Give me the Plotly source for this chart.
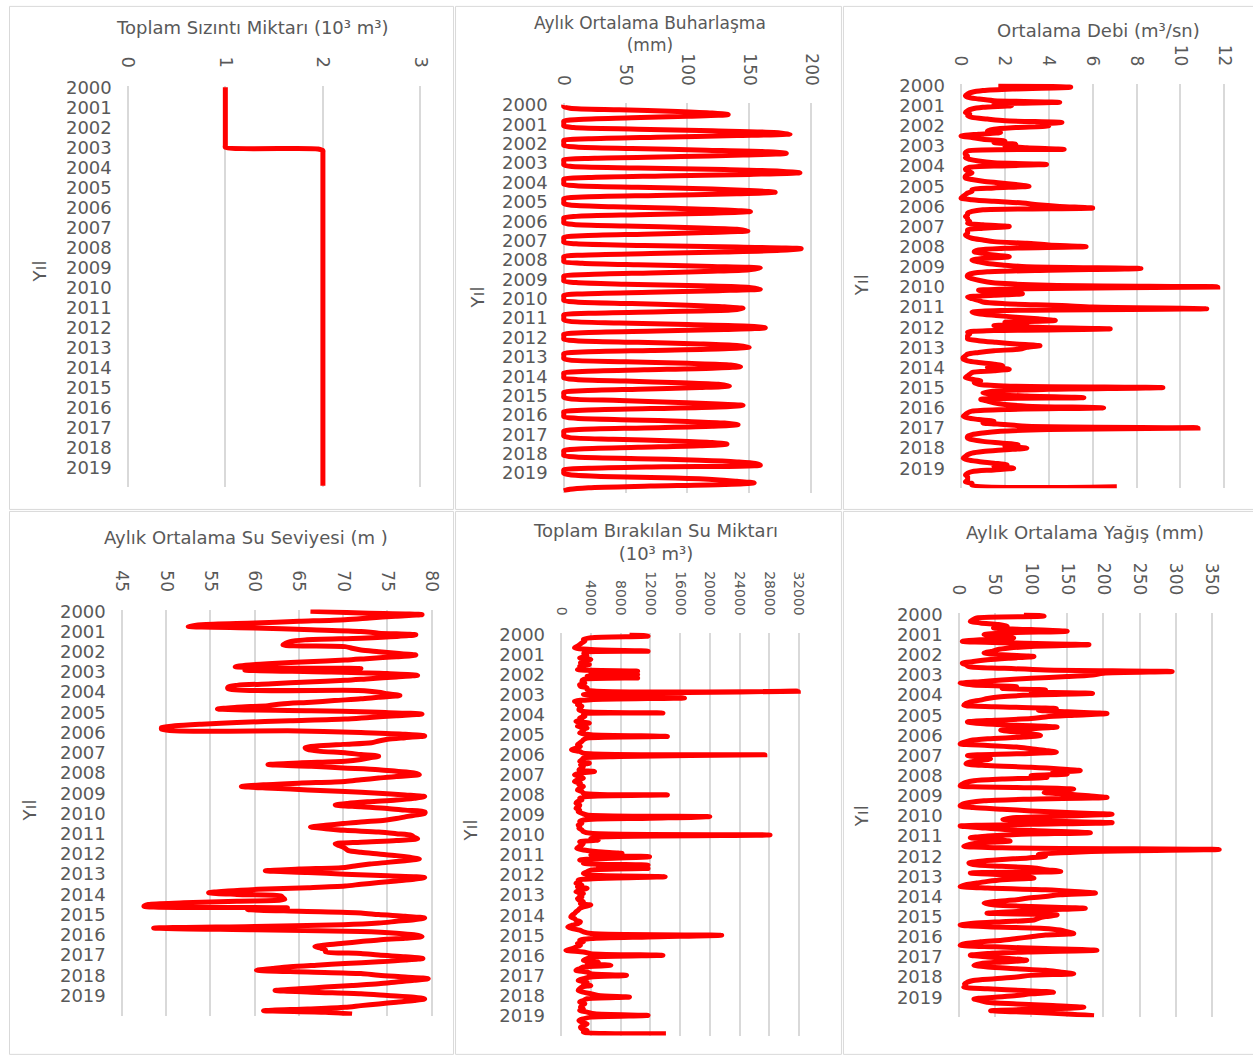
import plotly.graph_objects as go

W, H = 1253, 1056
FONT = "DejaVu Sans"
GRAY = "#595959"

years = [str(y) for y in range(2000, 2020)]
months = list(range(240))

# Toplam Sızıntı Miktarı (10^3 m^3)
sizinti = [
    1, 1, 1, 1, 1, 1, 1, 1, 1, 1, 1, 1,
    1, 1, 1, 1, 1, 1, 1, 1, 1, 1, 1, 1,
    1, 1, 1, 1, 1, 1, 1, 1, 1, 1, 1, 1,
    1, 1.95, 2, 2, 2, 2, 2, 2, 2, 2, 2, 2,
    2, 2, 2, 2, 2, 2, 2, 2, 2, 2, 2, 2,
    2, 2, 2, 2, 2, 2, 2, 2, 2, 2, 2, 2,
    2, 2, 2, 2, 2, 2, 2, 2, 2, 2, 2, 2,
    2, 2, 2, 2, 2, 2, 2, 2, 2, 2, 2, 2,
    2, 2, 2, 2, 2, 2, 2, 2, 2, 2, 2, 2,
    2, 2, 2, 2, 2, 2, 2, 2, 2, 2, 2, 2,
    2, 2, 2, 2, 2, 2, 2, 2, 2, 2, 2, 2,
    2, 2, 2, 2, 2, 2, 2, 2, 2, 2, 2, 2,
    2, 2, 2, 2, 2, 2, 2, 2, 2, 2, 2, 2,
    2, 2, 2, 2, 2, 2, 2, 2, 2, 2, 2, 2,
    2, 2, 2, 2, 2, 2, 2, 2, 2, 2, 2, 2,
    2, 2, 2, 2, 2, 2, 2, 2, 2, 2, 2, 2,
    2, 2, 2, 2, 2, 2, 2, 2, 2, 2, 2, 2,
    2, 2, 2, 2, 2, 2, 2, 2, 2, 2, 2, 2,
    2, 2, 2, 2, 2, 2, 2, 2, 2, 2, 2, 2,
    2, 2, 2, 2, 2, 2, 2, 2, 2, 2, 2, 2,
]

# Aylık Ortalama Buharlaşma (mm)
buharlasma = [
    0, 0, 5, 45, 92, 120, 133, 100, 55, 12, 0, 0,
    0, 0, 8, 60, 120, 170, 183, 140, 75, 20, 0, 0,
    0, 0, 10, 55, 115, 165, 180, 145, 95, 25, 0, 0,
    0, 0, 5, 60, 130, 175, 191, 150, 80, 20, 0, 0,
    0, 0, 10, 60, 120, 150, 171, 140, 75, 15, 0, 0,
    0, 0, 5, 40, 90, 130, 151, 120, 60, 10, 0, 0,
    0, 0, 8, 50, 105, 140, 149, 115, 65, 15, 0, 0,
    0, 0, 10, 65, 140, 192, 175, 130, 70, 15, 0, 0,
    0, 0, 15, 60, 120, 159, 150, 120, 70, 20, 0, 0,
    0, 0, 10, 50, 110, 150, 159, 125, 70, 15, 0, 0,
    0, 0, 10, 55, 100, 130, 145, 135, 80, 20, 0, 0,
    0, 0, 5, 45, 100, 150, 163, 130, 75, 15, 0, 0,
    0, 0, 10, 60, 110, 140, 150, 130, 70, 15, 0, 0,
    0, 0, 5, 50, 100, 135, 143, 120, 65, 15, 0, 0,
    0, 0, 10, 50, 95, 125, 134, 110, 60, 15, 0, 0,
    0, 0, 5, 45, 80, 120, 145, 125, 70, 15, 0, 0,
    0, 0, 10, 55, 100, 130, 141, 120, 65, 12, 0, 0,
    0, 0, 5, 40, 90, 120, 132, 110, 60, 12, 0, 0,
    0, 0, 10, 60, 110, 140, 155, 159, 80, 20, 0, 0,
    0, 5, 30, 90, 123, 140, 154, 130, 70, 20, 5, 0,
]

# Ortalama Debi (m3/sn)
debi = [
    1.7, 5.0, 2.5, 1.0, 0.5, 0.3, 0.2, 0.3, 0.8, 1.5, 4.5, 1.5,
    2.3, 1.0, 0.5, 0.3, 0.2, 0.4, 0.3, 0.5, 1.2, 2.0, 4.6, 3.5,
    4.0, 2.5, 1.5, 1.2, 1.8, 0.8, 0.0, 0.5, 1.0, 2.0, 1.5, 2.5,
    2.0, 3.0, 4.7, 0.3, 0.2, 0.2, 0.3, 0.2, 0.4, 0.8, 1.5, 3.9,
    1.5, 0.3, 0.2, 0.3, 0.5, 0.3, 0.2, 0.2, 0.5, 1.0, 1.8, 2.5,
    3.1, 1.5, 0.5, 0.5, 0.3, 0.2, 0.1, 0.0, 0.5, 1.5, 2.8, 3.5,
    4.5, 6.0, 1.0, 0.5, 0.3, 0.3, 0.2, 0.3, 0.3, 0.4, 0.3, 1.0,
    2.2, 1.0, 0.3, 0.3, 0.3, 0.2, 0.3, 0.5, 1.0, 1.5, 3.0, 4.0,
    5.7, 2.0, 0.8, 0.6, 1.0, 1.5, 2.2, 1.0, 0.5, 0.8, 1.2, 2.0,
    3.0, 8.2, 4.0, 1.2, 0.5, 0.3, 0.3, 0.5, 0.8, 1.2, 2.0, 4.0,
    11.7, 3.0, 0.8, 1.5, 2.8, 1.5, 0.3, 0.5, 0.8, 1.0, 2.0, 4.6,
    6.0, 11.2, 2.0, 0.5, 0.8, 1.6, 2.5, 3.5, 4.3, 2.0, 3.0, 1.5,
    3.5, 6.8, 1.5, 0.3, 0.4, 0.3, 0.3, 0.3, 0.8, 1.6, 2.5, 3.6,
    3.0, 2.7, 1.5, 0.8, 0.3, 0.2, 0.1, 0.1, 0.3, 0.8, 1.5, 1.9,
    1.2, 2.2, 1.5, 0.5, 0.4, 0.3, 0.2, 0.5, 0.9, 0.6, 0.8, 2.0,
    9.2, 4.0, 1.6, 1.0, 1.5, 3.0, 5.6, 0.9, 1.2, 1.5, 2.0, 3.0,
    6.5, 2.0, 0.5, 0.3, 0.2, 0.1, 0.3, 0.8, 1.5, 1.0, 2.0, 3.0,
    10.8, 4.0, 1.8, 1.0, 0.5, 0.3, 0.3, 0.5, 1.0, 1.8, 2.6, 2.0,
    3.0, 2.0, 1.0, 0.5, 0.3, 0.2, 0.1, 0.3, 0.8, 1.5, 2.1, 1.5,
    2.4, 1.5, 0.5, 0.3, 0.2, 0.3, 0.3, 0.3, 0.2, 0.5, 0.5, 7.1,
]

# Aylık Ortalama Su Seviyesi (m)
su_seviyesi = [
    66.3, 72, 78.9, 75.9, 73, 70.2, 65, 60, 54, 52.5, 60, 66.4,
    72, 74, 78.2, 76, 72, 65.7, 64, 63.5, 63.2, 70.2, 71, 72,
    74, 76, 78.2, 76, 73, 70.2, 66, 62, 59, 57.8, 72, 58.9,
    68, 75, 78.4, 76, 73, 70.2, 66, 62, 58, 57, 57, 71.7,
    74, 75, 76.4, 74, 72, 69, 66.4, 63, 61.5, 58, 55.8, 66.4,
    74, 78.9, 76, 73, 70.2, 64, 58, 54, 51, 49.5, 49.5, 65,
    72, 77, 79.2, 77, 75, 74, 73.2, 70, 67, 65.7, 66, 67.2,
    70.2, 72, 74, 73, 72, 70.2, 65, 61.5, 66.4, 70, 74, 76,
    78, 78.6, 76, 74, 72, 70.2, 65, 61, 58.5, 62, 66, 70.2,
    74, 77, 79.2, 78, 76, 73, 70.5, 69.1, 72, 75, 77, 79.2,
    79.2, 78, 77, 76, 74.7, 72, 70, 68, 66.3, 68, 70.2, 74,
    76, 77.7, 78, 78.4, 76, 72, 69.1, 69.5, 70, 70.3, 70.6, 72,
    74, 76, 77.5, 78.6, 77, 75, 73, 71.5, 70.2, 65, 61.2, 66,
    70.2, 75, 79.2, 78, 76, 74, 72, 70.2, 66, 60.4, 57, 54.8,
    58, 63, 63.2, 63.4, 58, 52, 48, 47.5, 63.7, 59.2, 65, 72,
    74, 77, 79.2, 78, 76, 74, 70, 60, 48.6, 60, 72, 76,
    78, 78.9, 77, 74, 72, 70, 68, 66.8, 67.5, 68, 68, 72,
    74, 77, 79, 77, 74, 70.2, 67, 64, 62, 60.2, 66, 72,
    74, 77, 79.6, 78, 76, 74, 71, 68, 65, 62.3, 66.4, 72,
    75, 78, 79.2, 78, 76, 74, 72, 70.2, 66, 61, 68, 71,
]

# Toplam Bırakılan Su Miktarı (10^3 m^3)
birakilan = [
    9200, 11700, 4000, 3000, 3200, 2800, 2500, 2200, 1800, 4000, 11700, 3100,
    3100, 3500, 2500, 4000, 3000, 2600, 3800, 2500, 3000, 2200, 10300, 4000,
    10300, 3500, 10300, 3000, 2800, 3200, 2500, 2600, 3500, 3500, 31900, 10000,
    3000, 10000, 16600, 4000, 1800, 2500, 2200, 2800, 2500, 2400, 3000, 13700,
    3000, 3200, 2500, 2800, 2000, 3800, 2600, 2200, 3500, 2800, 3000, 2500,
    4000, 14300, 3500, 3000, 2800, 2500, 2200, 2600, 2000, 1400, 2500, 3000,
    27400, 8000, 3000, 2800, 2500, 3800, 2600, 3000, 2800, 2400, 4500, 2500,
    1800, 2500, 3000, 2200, 1800, 2600, 2400, 3000, 2500, 2200, 2800, 3000,
    14300, 3500, 2500, 2800, 2200, 2000, 2500, 2400, 2000, 2500, 2300, 2800,
    3500, 20000, 12000, 3000, 2500, 2800, 2300, 2500, 2400, 2800, 3000, 4000,
    28100, 6000, 4000, 5000, 2500, 3000, 2800, 2400, 2100, 3000, 5000, 8200,
    4000, 11900, 6000, 2500, 4000, 3000, 11700, 5000, 11700, 4000, 3500, 3000,
    4000, 14000, 5000, 2300, 2500, 2000, 2800, 2200, 3500, 2500, 2000, 3000,
    2500, 2800, 2200, 2400, 3000, 2600, 4000, 3000, 2500, 2300, 2000, 1800,
    1500, 1300, 1800, 2000, 2600, 2300, 1500, 900, 1500, 2500, 3000, 4000,
    21600, 11700, 4000, 2500, 3000, 2200, 2600, 2000, 1500, 650, 3000, 4000,
    13700, 4500, 3500, 3000, 5000, 3500, 6700, 3000, 2500, 2000, 3500, 4000,
    8800, 4000, 3000, 2300, 3500, 3000, 4000, 2800, 2500, 2300, 3000, 4000,
    5000, 9200, 3500, 3000, 2500, 3200, 2800, 2600, 3000, 2500, 3500, 4500,
    11700, 4000, 3000, 2400, 2800, 3500, 3000, 2600, 2800, 3500, 3000, 14100,
]

# Aylık Ortalama Yağış (mm)
yagis = [
    90, 118, 25, 20, 16, 30, 55, 67, 48, 100, 150, 60,
    35, 50, 76, 30, 5, 80, 180, 100, 70, 53, 45, 35,
    60, 104, 70, 40, 20, 5, 10, 14, 60, 120, 295, 200,
    185, 150, 100, 60, 30, 2, 20, 80, 60, 120, 100, 185,
    100, 58, 40, 30, 16, 10, 7, 50, 135, 110, 150, 205,
    160, 120, 100, 50, 12, 30, 80, 136, 100, 58, 80, 100,
    113, 90, 40, 16, 8, 2, 40, 80, 100, 120, 135, 80,
    12, 30, 44, 30, 15, 10, 40, 100, 140, 168, 130, 150,
    100, 122, 60, 21, 10, 5, 2, 80, 159, 130, 118, 150,
    180, 205, 100, 35, 15, 5, 2, 20, 60, 100, 150, 212,
    150, 80, 61, 120, 212, 100, 2, 30, 60, 120, 182, 80,
    40, 16, 50, 71, 30, 15, 7, 60, 360, 200, 141, 110,
    120, 96, 60, 30, 14, 20, 60, 104, 120, 141, 16, 60,
    90, 104, 60, 40, 25, 10, 2, 40, 120, 160, 189, 140,
    120, 94, 80, 50, 35, 50, 100, 175, 120, 80, 39, 136,
    120, 110, 104, 60, 20, 2, 40, 118, 140, 150, 159, 120,
    100, 80, 60, 30, 10, 2, 50, 120, 191, 100, 40, 16,
    40, 70, 94, 60, 30, 21, 40, 80, 120, 140, 159, 100,
    80, 50, 20, 12, 8, 10, 7, 40, 90, 131, 100, 80,
    50, 21, 30, 39, 80, 130, 173, 120, 44, 100, 150, 187,
]

# screen-pixel -> paper mapping (calibrated for the capture)
AX, BX = 2.5, 0.9945
AY, BY = 6.6, 0.9934


def X(p):
    return ((p - AX) / BX) / W


def Y(p):
    return 1 - ((p - AY) / BY) / H


# (values, title, title_x, title_y, title_size, x0px, x1px, xmin, xmax, dtick,
#  ytop_px(m=-1), ybot_px(m=240), tick size, yil_x, yil_y)
panels = [
    (sizinti, "Toplam Sızıntı Miktarı (10³ m³)", 250, 25, 18,
     126, 418, 0, 3, 1, 83.3, 486.0, 18, 38, 270),
    (buharlasma, "Aylık Ortalama Buharlaşma<br>(mm)", 647, 32, 17,
     561, 807.7, 0, 200, 50, 101.1, 491.1, 17, 475, 296),
    (debi, "Ortalama Debi (m³/sn)", 1094, 28, 18,
     957.3, 1220, 0, 12, 2, 81.6, 486.9, 17, 858, 283),
    (su_seviyesi, "Aylık Ortalama Su Seviyesi (m )", 244, 536, 18,
     120, 429.3, 45, 80, 5, 608.3, 1015.3, 17, 28, 810),
    (birakilan, "Toplam Bırakılan Su Miktarı<br>(10³ m³)", 652, 541, 18,
     558.3, 795.7, 0, 32000, 4000, 631.6, 1035.1, 14, 468, 830),
    (yagis, "Aylık Ortalama Yağış (mm)", 1081, 531, 18,
     955, 1207.7, 0, 350, 50, 611.6, 1016.9, 17, 858, 815),
]

fig = go.Figure()
layout = dict(
    width=W, height=H, autosize=False,
    margin=dict(l=0, r=0, t=0, b=0),
    paper_bgcolor="white", plot_bgcolor="white",
    showlegend=False,
    font=dict(family=FONT, color=GRAY),
    annotations=[], shapes=[],
)

PADL, PADR = 6, 12
for i, (vals, title, tx, ty, tsz, x0, x1, xmin, xmax, dt, yt, yb, tks, yx, yy) in enumerate(panels, start=1):
    k = (x1 - x0) / (xmax - xmin)
    sfx = "" if i == 1 else str(i)
    fig.add_trace(go.Scatter(
        x=vals, y=months, mode="lines",
        line=dict(color="#ff0000", width=5, shape="spline", smoothing=0.8),
        xaxis="x" + sfx, yaxis="y" + sfx, hoverinfo="skip",
    ))
    layout["xaxis" + sfx] = dict(
        domain=[X(x0 - PADL), X(x1 + PADR)],
        range=[xmin - PADL / k, xmax + PADR / k],
        tick0=xmin, dtick=dt, side="top", anchor="y" + sfx,
        tickangle=90, showgrid=True, gridcolor="#d9d9d9", gridwidth=2,
        zeroline=False, showline=False, ticks="",
        tickformat="d", exponentformat="none", separatethousands=False,
        tickfont=dict(family=FONT, size=tks, color=GRAY),
        ticklabelstandoff=14,
    )
    layout["yaxis" + sfx] = dict(
        domain=[Y(yb), Y(yt)], range=[240, -1], anchor="x" + sfx,
        tickmode="array", tickvals=[12 * j for j in range(20)], ticktext=years,
        showgrid=False, zeroline=False, showline=False, ticks="",
        tickfont=dict(family=FONT, size=18, color=GRAY),
        ticklabelstandoff=15 - PADL,
    )
    layout["annotations"].append(dict(
        text=title, x=X(tx), y=Y(ty), xref="paper", yref="paper",
        xanchor="center", yanchor="middle", showarrow=False,
        font=dict(family=FONT, size=tsz, color=GRAY),
    ))
    layout["annotations"].append(dict(
        text="Yıl", x=X(yx), y=Y(yy), xref="paper", yref="paper",
        xanchor="center", yanchor="middle", showarrow=False, textangle=-90,
        font=dict(family=FONT, size=18, color=GRAY),
    ))

for (a, b, c, d) in [(8, 4, 451, 508), (453, 4, 838, 508), (840, 4, 1250, 508),
                     (8, 510, 451, 1054), (453, 510, 838, 1054), (840, 510, 1250, 1054)]:
    layout["shapes"].append(dict(
        type="rect", xref="paper", yref="paper",
        x0=X(a), x1=X(c), y0=Y(d), y1=Y(b),
        line=dict(color="#d9d9d9", width=1), fillcolor="rgba(0,0,0,0)", layer="below",
    ))

fig.update_layout(**layout)
fig.write_html("out.html", config={"displayModeBar": False},
               post_script="document.body.style.margin='0px';document.documentElement.style.overflow='hidden';")
